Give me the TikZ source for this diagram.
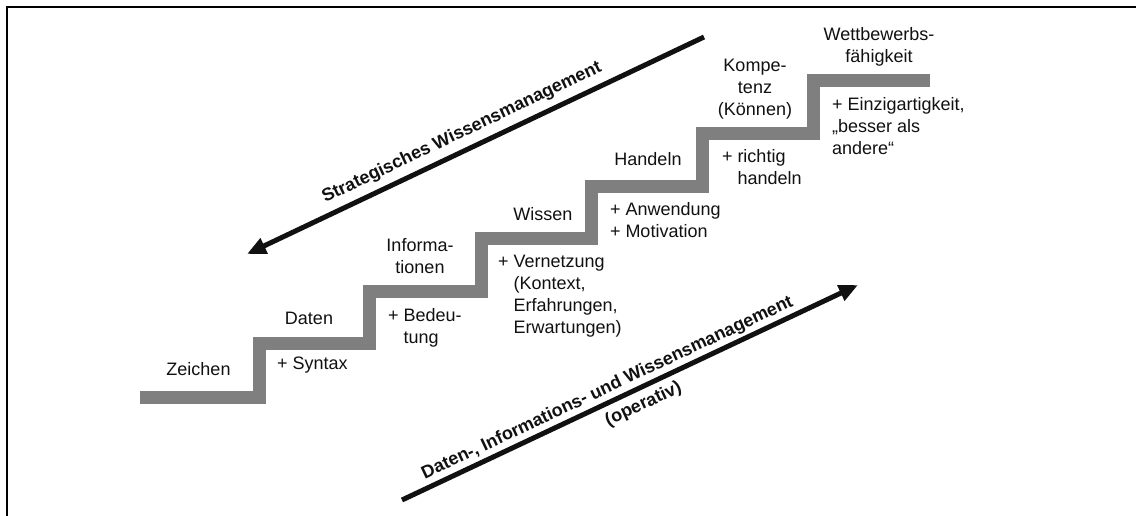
\documentclass[tikz,border=0pt]{standalone}
\usepackage{fontspec}
\setmainfont{Liberation Sans}
\usetikzlibrary{arrows.meta}
\definecolor{stair}{HTML}{7F7F7F}
\definecolor{ink}{HTML}{111111}
\begin{document}
\begin{tikzpicture}[x=1pt,y=-1pt,
  lbl/.style={inner sep=0pt, outer sep=0pt, text=ink, font=\fontsize{18}{22}\selectfont},
  ctr/.style={lbl, anchor=north, align=center},
  lft/.style={lbl, anchor=north west, align=left},
  big/.style={inner sep=0pt, text=ink, font=\fontsize{18}{22}\selectfont\bfseries},
  arr/.style={line width=5pt, ink, -{Triangle[length=19pt,width=16pt]}},
  stairline/.style={line width=13pt, stair, line join=miter}]
\useasboundingbox (0,0) rectangle (1136,515);
\fill[white] (0,0) rectangle (1136,515);
% frame
\draw[line width=2pt, black] (7,516) -- (7,7) -- (1137,7);
% staircase
\draw[stairline] (140,397) -- (259,397) -- (259,343) -- (369,343) -- (369,291.5)
  -- (481,291.5) -- (481,238.5) -- (591,238.5) -- (591,186.5) -- (702.5,186.5)
  -- (702.5,133.5) -- (813,133.5) -- (813,80.5) -- (930,80.5);
% step labels (above)
\node[ctr] (zeichen) at (198.5,362) {Zeichen};
\node[ctr] (daten) at (309,312) {Daten};
\node[ctr] (info) at (420,238) {Informa-\\tionen};
\node[ctr] (wissen) at (543,207) {Wissen};
\node[ctr] (handeln) at (648,152) {Handeln};
\node[ctr] (kompetenz) at (755,59) {Kompe-\\tenz\\(Können)};
\node[ctr] (wettbewerb) at (879,27) {Wettbewerbs-\\fähigkeit};
% additions (below)
\node[lft] (syntax) at (277,357) {+ Syntax};
\node[lft] (bedeutung) at (388,308) {+ Bedeu-\\\phantom{+ }tung};
\node[lft] (vernetzung) at (498,255) {+ Vernetzung\\\phantom{+ }(Kontext,\\\phantom{+ }Erfahrungen,\\\phantom{+ }Erwartungen)};
\node[lft] (anwendung) at (610,202) {+ Anwendung\\+ Motivation};
\node[lft] (richtig) at (722,149) {+ richtig\\\phantom{+ }handeln};
\node[lft] (einzig) at (832,97) {+ Einzigartigkeit,\\„besser als\\andere“};
% arrows
\coordinate (sA) at (704,37);
\coordinate (sB) at (247,254);
\coordinate (oA) at (402,500);
\coordinate (oB) at (858,285);
\draw[arr] (sA) -- (sB);
\draw[arr] (oA) -- (oB);
\node[big, rotate=25.4, anchor=base] (strat) at (464,137) {Strategisches Wissensmanagement};
\node[big, rotate=25.2, anchor=base] (oper) at (609.5,392.5) {Daten-, Informations- und Wissensmanagement};
\node[big, rotate=25.2, anchor=center] (operativ) at (643.5,404.5) {(operativ)};
\end{tikzpicture}
\end{document}
